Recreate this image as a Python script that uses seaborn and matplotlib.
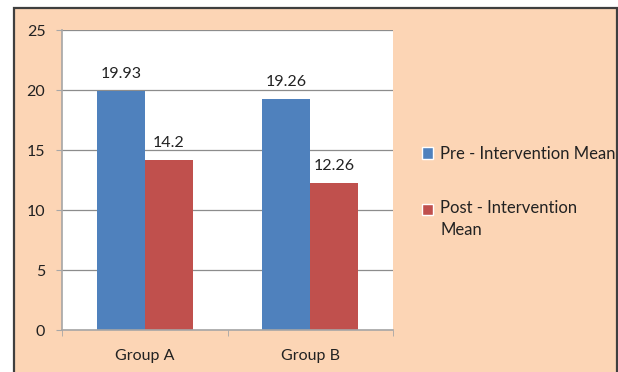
import matplotlib
matplotlib.use("Agg")
import matplotlib.pyplot as plt
from matplotlib.patches import Rectangle
from matplotlib.legend_handler import HandlerPatch
import pandas as pd
import seaborn as sns

groups = ["Group A", "Group B"]
pre_mean = [19.93, 19.26]
post_mean = [14.2, 12.26]
series_names = ["Pre - Intervention Mean", "Post - Intervention\nMean"]
series_colors = ["#4F81BD", "#C0504D"]
y_ticks = [0, 5, 10, 15, 20, 25]

df = pd.DataFrame({
    "group": groups * 2,
    "series": [series_names[0]] * len(groups) + [series_names[1]] * len(groups),
    "value": pre_mean + post_mean,
})

sns.set_style("white")
plt.rcParams["font.family"] = ["Lato", "DejaVu Sans"]

peach = "#FCD5B5"
grid_col = "#8C8C8C"
spine_col = "#A6A6A6"
text_col = "#222222"
fs = 11.5

fig = plt.figure(figsize=(6.18, 3.72), dpi=100)
fig.patch.set_facecolor("white")

# framed chart area, drawn behind the axes
frame = Rectangle((14 / 618, -0.1), (617 - 14) / 618, 1.1 - 7.5 / 372,
                  transform=fig.transFigure, facecolor=peach,
                  edgecolor="#3f3f3f", linewidth=1.6, zorder=-10)
fig.patches.append(frame)

ax = fig.add_axes([62 / 618, 1 - 330 / 372, (393 - 62) / 618, 300 / 372])
ax.set_zorder(1)
ax.set_facecolor("white")

sns.barplot(data=df, x="group", y="value", hue="series",
            palette=series_colors, saturation=1, width=0.58,
            linewidth=0, ax=ax, legend=False, zorder=3)

ax.set_ylim(0, 25)
ax.set_xlim(-0.5, 1.5)
ax.set_yticks(y_ticks)
ax.set_yticklabels([str(t) for t in y_ticks])
ax.yaxis.grid(True, color=grid_col, linewidth=0.9)
ax.set_axisbelow(True)
ax.set_xlabel("")
ax.set_ylabel("")

for side in ["top", "right"]:
    ax.spines[side].set_visible(False)
for side in ["left", "bottom"]:
    ax.spines[side].set_color(spine_col)
    ax.spines[side].set_linewidth(1.2)
    ax.spines[side].set_zorder(4)

ax.tick_params(axis="y", length=4, color=spine_col, pad=8,
               labelsize=fs, labelcolor=text_col, left=True)
ax.set_xticks([-0.5, 0.5, 1.5], minor=True)
ax.tick_params(axis="x", which="minor", length=4, color=spine_col,
               bottom=True, direction="out")
ax.tick_params(axis="x", which="major", length=0, pad=14,
               labelsize=fs, labelcolor=text_col)

for container in ax.containers:
    ax.bar_label(container, fmt="%g", padding=7, fontsize=fs,
                 color=text_col)


def top_aligned_patch(legend, orig_handle, xdescent, ydescent,
                      width, height, fontsize):
    # keep the swatch level with the first line of a wrapped label
    return Rectangle((-xdescent, -ydescent + 0.62 * fontsize), width, height)


handles = [Rectangle((0, 0), 1, 1, facecolor=c) for c in series_colors]
leg = fig.legend(handles, series_names, loc="center left",
                 bbox_to_anchor=(415 / 618, 1 - 192 / 372),
                 frameon=False, fontsize=fs + 0.5, handlelength=0.7,
                 handleheight=0.7, handletextpad=0.4, labelspacing=2.3,
                 borderaxespad=0,
                 handler_map={handles[1]: HandlerPatch(patch_func=top_aligned_patch)})
for t in leg.get_texts():
    t.set_color(text_col)
    t.set_linespacing(1.45)

fig.savefig("out.png", dpi=100, facecolor=fig.get_facecolor())
